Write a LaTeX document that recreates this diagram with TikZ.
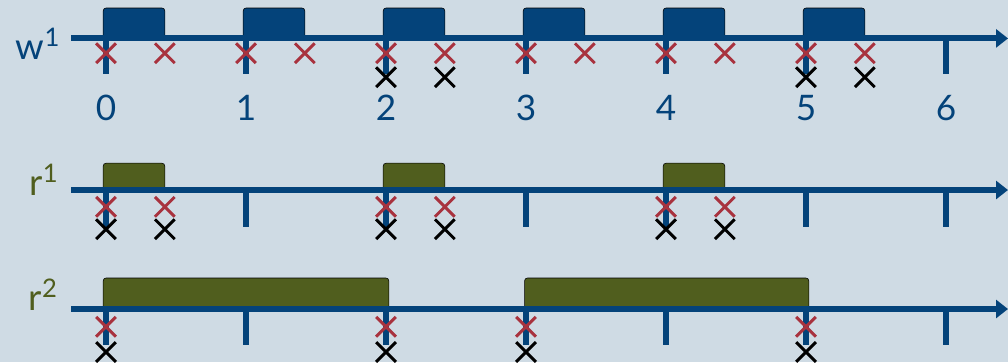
\documentclass[tikz,border=0pt]{standalone}
\usepackage{fontspec}
\setmainfont{Lato}
\usetikzlibrary{arrows.meta,shapes.misc}
\definecolor{bgblue}{RGB}{207,219,228}
\definecolor{tlblue}{RGB}{4,67,122}
\definecolor{tlred}{RGB}{168,50,62}
\definecolor{tlolive}{RGB}{80,94,30}

\begin{document}
\begin{tikzpicture}[
    axisline/.style={tlblue, line width=4.3pt, -{Triangle[length=0.3cm,width=0.45cm]}},
    tickline/.style={tlblue, line width=4.3pt},
    wblock/.style={fill=tlblue, rounded corners=2pt},
    rblock/.style={fill=tlolive, rounded corners=2pt},
    redx/.style={cross out, draw=tlred, line width=2.1pt, minimum size=0.42cm, inner sep=0pt},
    blackx/.style={redx, draw=black},
    ticklabel/.style={text=tlblue, font=\fontsize{25}{25}\selectfont},
    rowlabel/.style={font=\fontsize{26}{26}\selectfont, inner sep=0pt},
]
    \fill[bgblue] (0,0) rectangle (25.2,9.05);
    \useasboundingbox (0,0) rectangle (25.2,9.05);

    % row labels
    \node[rowlabel, text=tlblue] (lw) at (0.95,7.95) {w\textsuperscript{1}};
    \node[rowlabel, text=tlolive] (lr1) at (1.1,4.55) {r\textsuperscript{1}};
    \node[rowlabel, text=tlolive] (lr2) at (1.08,1.68) {r\textsuperscript{2}};

    \begin{scope}[xshift=2.65cm, x=3.5cm]
    % w^1
    \foreach \k in {0,...,5}
        \draw[wblock] (\k-0.02,8.09) rectangle (\k+0.42,8.85);
    \draw[axisline] (-0.25,8.09) -- (6.443,8.09);
    \foreach \k in {0,...,6} {
        \draw[tickline] (\k,8.09) -- (\k,7.19);
        \node[ticklabel] (n\k) at (\k,6.35) {\k};
    }
    \foreach \k in {0,...,5} {
        \node[redx] (wa\k) at (\k,7.72) {};
        \node[redx] (wb\k) at (\k+0.42,7.72) {};
    }
    \foreach \k in {2,5} {
        \node[blackx] (wc\k) at (\k,7.12) {};
        \node[blackx] (wd\k) at (\k+0.42,7.12) {};
    }

    % r^1
    \foreach \k in {0,2,4}
        \draw[rblock] (\k-0.02,4.3) rectangle (\k+0.42,4.97);
    \draw[axisline] (-0.25,4.3) -- (6.443,4.3);
    \foreach \k in {0,...,6}
        \draw[tickline] (\k,4.3) -- (\k,3.38);
    \foreach \k in {0,2,4} {
        \node[redx] (ra\k) at (\k,3.88) {};
        \node[redx] (rb\k) at (\k+0.42,3.88) {};
        \node[blackx] (rc\k) at (\k,3.32) {};
        \node[blackx] (rd\k) at (\k+0.42,3.32) {};
    }

    % r^2
    \draw[rblock] (-0.02,1.325) rectangle (2.02,2.1);
    \draw[rblock] (2.99,1.325) rectangle (5.02,2.1);
    \draw[axisline] (-0.25,1.325) -- (6.443,1.325);
    \foreach \k in {0,...,6}
        \draw[tickline] (\k,1.325) -- (\k,0.42);
    \foreach \k in {0,2,3,5} {
        \node[redx] (sa\k) at (\k,0.88) {};
        \node[blackx] (sb\k) at (\k,0.25) {};
    }
    \end{scope}
\end{tikzpicture}
\end{document}
